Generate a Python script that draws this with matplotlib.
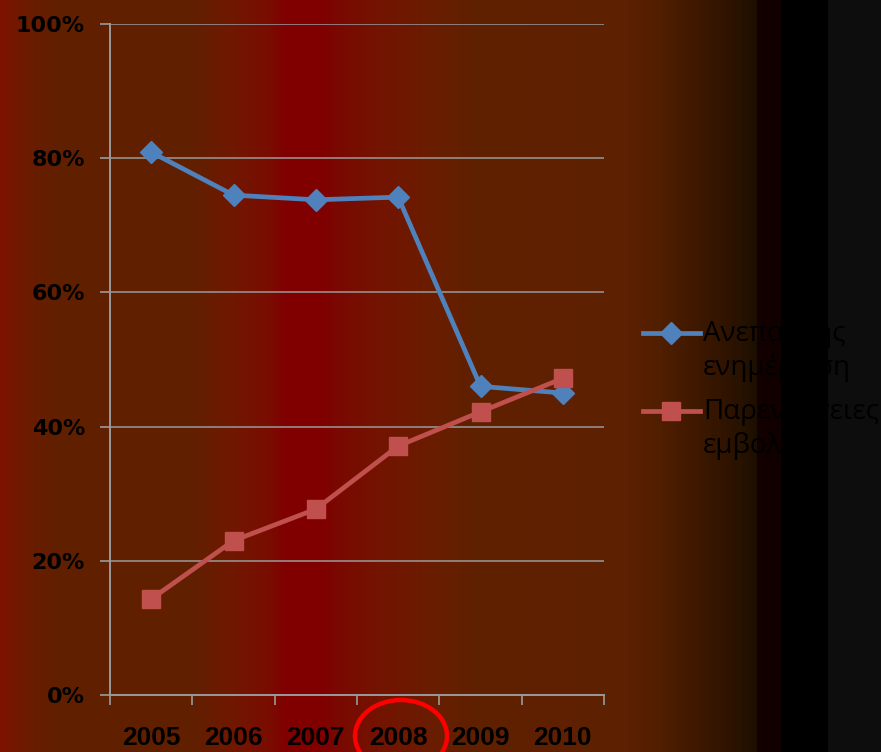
import numpy as np
import matplotlib
matplotlib.use("Agg")
import matplotlib.pyplot as plt
from matplotlib.lines import Line2D
from matplotlib.patches import Ellipse
from matplotlib.ticker import FixedLocator, PercentFormatter

# ---- data ----
years = ["2005", "2006", "2007", "2008", "2009", "2010"]
insufficient_info = [80.9, 74.5, 73.8, 74.2, 46.0, 45.0]
side_effects = [14.3, 23.0, 27.7, 37.1, 42.2, 47.2]
series_labels = ["Ανεπαρκής\nενημέρωση", "Παρενέργειες\nεμβολίου"]
y_ticks = [0, 20, 40, 60, 80, 100]

BLUE = "#4F81BD"
RED = "#C0504D"
GRID = "#9a9a9a"

W, H = 881, 752
fig = plt.figure(figsize=(W / 100, H / 100), dpi=100)

# ---- banded horizontal background ----
stops = [
    (0, (125, 18, 0)), (30, (105, 28, 0)), (60, (96, 32, 0)),
    (190, (96, 32, 0)), (230, (112, 24, 0)), (270, (122, 12, 0)),
    (285, (128, 0, 0)), (322, (128, 0, 0)), (335, (122, 8, 0)),
    (380, (115, 20, 0)), (440, (104, 30, 0)), (470, (96, 32, 0)),
    (627, (93, 32, 0)), (660, (80, 30, 0)), (690, (66, 25, 0)),
    (740, (40, 18, 0)), (756, (28, 15, 0)), (757, (20, 0, 0)),
    (780, (16, 0, 0)), (781, (0, 0, 0)), (827, (0, 0, 0)),
    (828, (13, 13, 13)), (881, (13, 13, 13)),
]
xs = np.arange(W)
sx = [s[0] for s in stops]
band = np.stack([np.interp(xs, sx, [s[1][c] for s in stops]) for c in range(3)], axis=-1) / 255.0
bg_ax = fig.add_axes([0, 0, 1, 1], zorder=-10)
bg_ax.imshow(band[np.newaxis, :, :], aspect="auto", extent=[0, 1, 0, 1])
bg_ax.set_axis_off()

# ---- chart ----
ax = fig.add_axes([110 / W, 1 - 695 / H, 494 / W, 671 / H])
ax.patch.set_alpha(0)
x = np.arange(len(years))

ax.plot(x, insufficient_info, color=BLUE, lw=3.4, marker="D", ms=11,
        mec=BLUE, mew=1, zorder=3, solid_joinstyle="round")
ax.plot(x, side_effects, color=RED, lw=3.4, marker="s", ms=13,
        mec=RED, mew=1, zorder=3, solid_joinstyle="round")

ax.set_xlim(-0.5, len(years) - 0.5)
ax.set_ylim(0, 100)
ax.set_yticks(y_ticks)
ax.yaxis.set_major_formatter(PercentFormatter(decimals=0))
ax.set_xticks(x)
ax.set_xticklabels(years)
ax.xaxis.set_minor_locator(FixedLocator(np.arange(-0.5, len(years), 1.0)))

ax.grid(axis="y", color=GRID, lw=1.1, zorder=1)
for s in ["top", "right"]:
    ax.spines[s].set_visible(False)
for s in ["left", "bottom"]:
    ax.spines[s].set_color(GRID)
    ax.spines[s].set_linewidth(1.4)

ax.tick_params(axis="y", which="major", length=7, width=1.2, color=GRID,
               pad=11, labelsize=16, labelcolor="black")
for lab in ax.get_yticklabels():
    lab.set_fontfamily("DejaVu Sans")
    lab.set_fontweight("bold")
ax.tick_params(axis="x", which="major", length=0, pad=22,
               labelsize=19, labelcolor="black")
ax.tick_params(axis="x", which="minor", length=7, width=1.2, color=GRID)
for lab in ax.get_xticklabels():
    lab.set_fontfamily("Liberation Sans")
    lab.set_fontweight("bold")

# ---- legend ----
leg_font = ["Open Sans", "Noto Sans", "DejaVu Sans"]
for (yp, col, mk, ms, lab) in [(333, BLUE, "D", 11, series_labels[0]),
                               (411, RED, "s", 13, series_labels[1])]:
    fy = 1 - yp / H
    fig.add_artist(Line2D([643 / W, 700 / W], [fy, fy], color=col, lw=3.4,
                          transform=fig.transFigure))
    fig.add_artist(Line2D([671 / W], [fy], color=col, marker=mk, ms=ms, mec=col,
                          mew=1, transform=fig.transFigure))
    fig.text(703 / W, fy + 14 / H, lab, ha="left", va="top", fontsize=20,
             family=leg_font, color="black", linespacing=1.22)

# ---- highlight ring around 2008 ----
fig.add_artist(Ellipse((401 / W, 1 - 736 / H), 92 / W, 72 / H, fill=False,
                       ec="#ff0000", lw=3.2, transform=fig.transFigure))

fig.savefig("out.png", dpi=100)
